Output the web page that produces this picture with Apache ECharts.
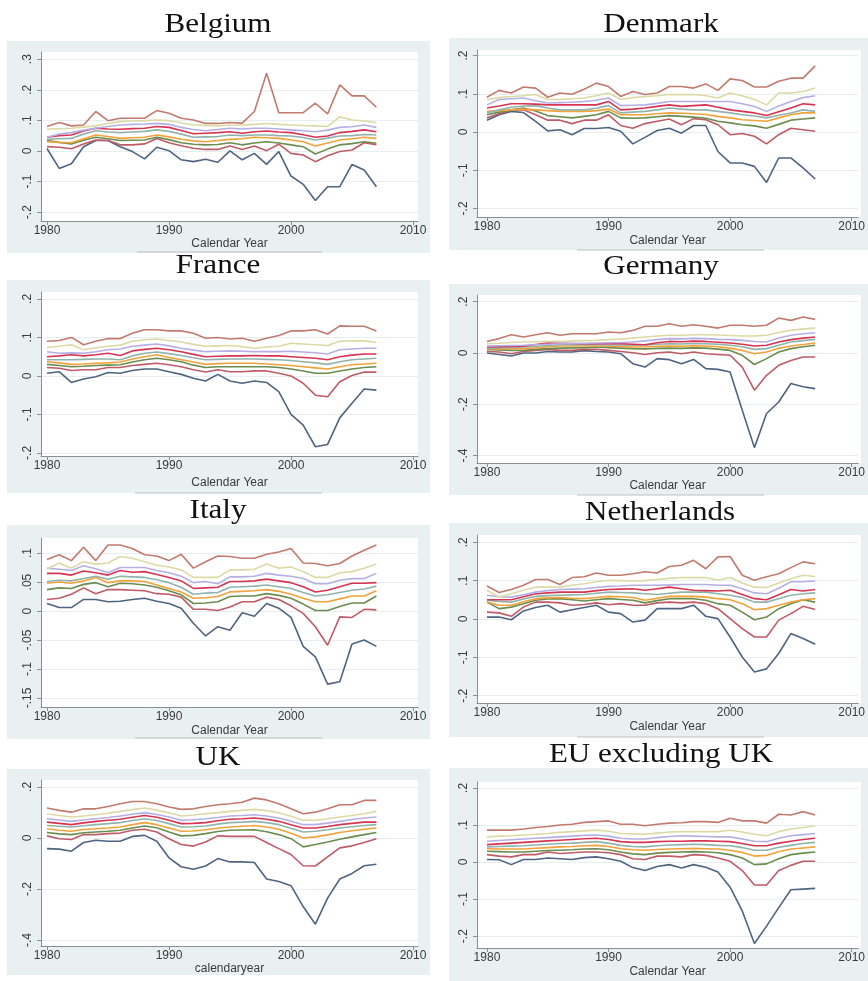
<!DOCTYPE html>
<html><head><meta charset="utf-8">
<script src="https://cdn.jsdelivr.net/npm/echarts@6/dist/echarts.min.js"></script>
<style>html,body{margin:0;padding:0;background:#fff}#c{width:868px;height:981px}</style>
</head><body><div id="c"></div>
<script>
// ---------- DATA ----------
const years = [1980,1981,1982,1983,1984,1985,1986,1987,1988,1989,1990,1991,1992,1993,1994,1995,1996,1997,1998,1999,2000,2001,2002,2003,2004,2005,2006,2007];
const seriesNames = ['p10','p20','p30','p40','p50','p60','p70','p80','p90'];
const xTicks = [1980,1990,2000,2010];

// rows: p10, p20, ..., p90
const belgium = [
 [0.008,-0.057,-0.042,0.014,0.034,0.034,0.014,-0.002,-0.026,0.012,0.001,-0.029,-0.035,-0.027,-0.037,0.0,-0.029,-0.008,-0.044,-0.002,-0.082,-0.109,-0.162,-0.117,-0.117,-0.044,-0.062,-0.117],
 [0.014,0.012,0.007,0.023,0.036,0.034,0.02,0.02,0.023,0.041,0.027,0.017,0.009,0.005,0.005,0.016,0.005,0.016,0.001,0.022,-0.008,-0.013,-0.035,-0.016,-0.002,0.003,0.027,0.02],
 [0.034,0.028,0.023,0.035,0.045,0.04,0.034,0.035,0.036,0.045,0.037,0.027,0.022,0.02,0.021,0.027,0.02,0.026,0.03,0.026,0.02,0.014,-0.01,0.006,0.02,0.024,0.03,0.025],
 [0.03,0.028,0.027,0.04,0.052,0.047,0.041,0.043,0.045,0.052,0.046,0.038,0.033,0.03,0.034,0.038,0.04,0.045,0.043,0.041,0.036,0.03,0.016,0.026,0.036,0.04,0.045,0.041],
 [0.038,0.04,0.041,0.055,0.066,0.062,0.06,0.062,0.064,0.069,0.064,0.055,0.045,0.046,0.047,0.052,0.05,0.052,0.052,0.05,0.049,0.044,0.036,0.042,0.049,0.05,0.054,0.052],
 [0.045,0.05,0.052,0.065,0.074,0.072,0.071,0.073,0.074,0.08,0.077,0.067,0.056,0.058,0.06,0.063,0.058,0.063,0.065,0.062,0.06,0.053,0.045,0.049,0.06,0.064,0.069,0.063],
 [0.045,0.055,0.06,0.068,0.074,0.08,0.085,0.087,0.088,0.09,0.087,0.077,0.07,0.066,0.07,0.074,0.072,0.074,0.074,0.072,0.069,0.066,0.063,0.068,0.077,0.079,0.085,0.077],
 [0.071,0.073,0.074,0.078,0.082,0.09,0.096,0.098,0.099,0.101,0.099,0.092,0.085,0.083,0.082,0.085,0.085,0.087,0.09,0.087,0.085,0.083,0.082,0.08,0.112,0.101,0.098,0.093],
 [0.08,0.093,0.082,0.085,0.129,0.099,0.107,0.107,0.107,0.132,0.123,0.107,0.101,0.09,0.09,0.093,0.091,0.129,0.254,0.125,0.125,0.125,0.156,0.121,0.216,0.18,0.18,0.143]
];
const denmark = [
 [0.031,0.045,0.054,0.051,0.028,0.003,0.006,-0.007,0.009,0.009,0.012,0.002,-0.031,-0.014,0.004,0.01,-0.003,0.017,0.017,-0.051,-0.081,-0.081,-0.09,-0.132,-0.068,-0.068,-0.094,-0.123],
 [0.037,0.048,0.058,0.058,0.045,0.031,0.031,0.022,0.031,0.031,0.045,0.017,0.01,0.022,0.028,0.034,0.019,0.035,0.032,0.019,-0.007,-0.004,-0.011,-0.031,-0.007,0.01,0.006,0.002],
 [0.045,0.052,0.058,0.063,0.055,0.043,0.04,0.037,0.041,0.045,0.054,0.037,0.036,0.037,0.04,0.043,0.041,0.039,0.036,0.028,0.024,0.019,0.016,0.01,0.02,0.031,0.034,0.037],
 [0.054,0.056,0.058,0.06,0.058,0.056,0.054,0.054,0.054,0.056,0.06,0.045,0.045,0.045,0.048,0.05,0.049,0.048,0.046,0.041,0.037,0.032,0.03,0.028,0.037,0.045,0.05,0.05],
 [0.05,0.058,0.065,0.068,0.069,0.063,0.058,0.058,0.058,0.062,0.069,0.05,0.052,0.054,0.058,0.063,0.06,0.058,0.058,0.054,0.05,0.045,0.042,0.037,0.044,0.05,0.058,0.054],
 [0.063,0.068,0.074,0.074,0.073,0.071,0.071,0.071,0.071,0.071,0.08,0.058,0.06,0.063,0.067,0.071,0.067,0.069,0.071,0.065,0.058,0.054,0.05,0.043,0.053,0.063,0.074,0.071],
 [0.071,0.085,0.087,0.089,0.082,0.076,0.077,0.078,0.08,0.083,0.089,0.069,0.07,0.071,0.075,0.08,0.08,0.08,0.08,0.08,0.08,0.074,0.067,0.054,0.068,0.08,0.09,0.095],
 [0.085,0.09,0.093,0.095,0.098,0.085,0.085,0.087,0.089,0.095,0.102,0.085,0.09,0.093,0.095,0.098,0.098,0.098,0.095,0.089,0.102,0.095,0.085,0.071,0.102,0.102,0.106,0.115],
 [0.091,0.109,0.102,0.118,0.115,0.091,0.102,0.099,0.112,0.128,0.119,0.093,0.106,0.098,0.102,0.119,0.119,0.115,0.126,0.109,0.139,0.135,0.118,0.118,0.133,0.141,0.141,0.173]
];
const france = [
 [0.007,0.011,-0.017,-0.008,-0.002,0.009,0.007,0.014,0.018,0.018,0.011,0.004,-0.006,-0.013,0.004,-0.013,-0.019,-0.013,-0.017,-0.041,-0.1,-0.128,-0.184,-0.178,-0.109,-0.071,-0.034,-0.037],
 [0.022,0.02,0.014,0.016,0.016,0.022,0.022,0.027,0.03,0.033,0.029,0.024,0.016,0.01,0.016,0.011,0.011,0.013,0.013,0.007,0.0,-0.019,-0.05,-0.054,-0.015,0.001,0.01,0.01],
 [0.03,0.027,0.024,0.025,0.027,0.028,0.029,0.036,0.042,0.046,0.042,0.037,0.028,0.022,0.024,0.024,0.024,0.024,0.024,0.022,0.018,0.013,0.007,0.007,0.013,0.018,0.022,0.024],
 [0.037,0.034,0.03,0.031,0.033,0.034,0.036,0.044,0.05,0.055,0.048,0.042,0.036,0.03,0.032,0.033,0.033,0.033,0.031,0.029,0.027,0.024,0.021,0.018,0.024,0.029,0.031,0.033],
 [0.042,0.042,0.042,0.043,0.044,0.044,0.042,0.052,0.059,0.062,0.058,0.053,0.047,0.042,0.043,0.044,0.044,0.044,0.043,0.042,0.04,0.037,0.034,0.03,0.037,0.042,0.044,0.046],
 [0.05,0.052,0.055,0.052,0.055,0.059,0.053,0.065,0.069,0.072,0.068,0.063,0.056,0.05,0.051,0.052,0.052,0.053,0.052,0.052,0.05,0.048,0.046,0.042,0.05,0.054,0.057,0.057],
 [0.063,0.059,0.06,0.059,0.063,0.068,0.07,0.077,0.08,0.083,0.078,0.072,0.067,0.063,0.064,0.065,0.064,0.063,0.063,0.063,0.064,0.062,0.06,0.057,0.068,0.07,0.072,0.072],
 [0.074,0.077,0.081,0.068,0.073,0.077,0.08,0.09,0.094,0.096,0.092,0.088,0.082,0.077,0.078,0.079,0.076,0.072,0.075,0.077,0.085,0.083,0.081,0.079,0.09,0.091,0.091,0.087],
 [0.09,0.092,0.1,0.081,0.09,0.097,0.097,0.111,0.12,0.12,0.117,0.117,0.111,0.098,0.1,0.096,0.098,0.09,0.098,0.105,0.117,0.117,0.12,0.109,0.13,0.129,0.129,0.117]
];
const germany = [
 [0.0,-0.006,-0.012,0.0,0.0,0.006,0.004,0.004,0.009,0.006,0.004,-0.003,-0.042,-0.055,-0.022,-0.026,-0.042,-0.025,-0.061,-0.064,-0.074,-0.223,-0.369,-0.236,-0.191,-0.119,-0.132,-0.139],
 [0.006,0.004,-0.003,0.006,0.01,0.014,0.01,0.01,0.014,0.014,0.01,0.006,0.001,-0.006,0.001,0.004,-0.003,0.004,-0.003,-0.006,-0.009,-0.055,-0.145,-0.087,-0.048,-0.029,-0.016,-0.016],
 [0.014,0.012,0.01,0.01,0.014,0.017,0.019,0.02,0.021,0.023,0.021,0.019,0.017,0.016,0.018,0.019,0.018,0.02,0.019,0.015,0.01,-0.009,-0.045,-0.022,0.004,0.017,0.024,0.03],
 [0.017,0.016,0.016,0.017,0.02,0.024,0.027,0.027,0.027,0.027,0.026,0.025,0.023,0.024,0.026,0.027,0.026,0.028,0.027,0.024,0.019,0.01,-0.003,0.004,0.018,0.027,0.033,0.039],
 [0.019,0.02,0.021,0.023,0.026,0.029,0.032,0.032,0.032,0.032,0.031,0.031,0.03,0.031,0.034,0.036,0.035,0.037,0.036,0.034,0.03,0.024,0.014,0.017,0.03,0.043,0.048,0.053],
 [0.023,0.024,0.025,0.026,0.033,0.039,0.038,0.037,0.036,0.036,0.036,0.036,0.034,0.032,0.04,0.045,0.044,0.046,0.045,0.042,0.039,0.034,0.027,0.03,0.043,0.052,0.058,0.062],
 [0.027,0.028,0.029,0.03,0.032,0.034,0.036,0.037,0.038,0.039,0.04,0.041,0.043,0.047,0.052,0.056,0.055,0.057,0.056,0.053,0.052,0.049,0.045,0.043,0.058,0.069,0.075,0.079],
 [0.036,0.038,0.041,0.043,0.044,0.045,0.045,0.047,0.048,0.049,0.052,0.054,0.058,0.062,0.066,0.069,0.069,0.071,0.071,0.07,0.068,0.066,0.066,0.069,0.08,0.088,0.094,0.097],
 [0.045,0.056,0.071,0.062,0.071,0.079,0.069,0.075,0.075,0.075,0.082,0.079,0.088,0.104,0.104,0.114,0.104,0.11,0.104,0.097,0.108,0.108,0.104,0.108,0.136,0.127,0.14,0.131]
];
const italy = [
 [0.013,0.006,0.006,0.02,0.02,0.016,0.017,0.02,0.022,0.017,0.013,0.005,-0.021,-0.043,-0.027,-0.033,-0.003,-0.009,0.013,0.005,-0.011,-0.061,-0.079,-0.126,-0.122,-0.057,-0.05,-0.061],
 [0.02,0.022,0.029,0.04,0.03,0.037,0.037,0.036,0.035,0.03,0.029,0.024,0.003,0.003,0.001,0.007,0.016,0.016,0.024,0.02,0.009,-0.004,-0.027,-0.059,-0.01,-0.011,0.003,0.002],
 [0.037,0.04,0.039,0.046,0.049,0.042,0.048,0.047,0.045,0.041,0.035,0.028,0.013,0.014,0.016,0.025,0.026,0.026,0.03,0.027,0.022,0.012,0.001,0.001,0.008,0.014,0.014,0.026],
 [0.048,0.05,0.048,0.052,0.058,0.049,0.052,0.052,0.051,0.045,0.039,0.033,0.022,0.023,0.025,0.033,0.034,0.035,0.037,0.034,0.029,0.022,0.016,0.016,0.021,0.026,0.026,0.035],
 [0.051,0.053,0.052,0.056,0.06,0.055,0.06,0.059,0.058,0.054,0.049,0.041,0.029,0.031,0.032,0.041,0.042,0.043,0.045,0.042,0.039,0.032,0.026,0.028,0.032,0.036,0.038,0.043],
 [0.065,0.065,0.062,0.069,0.066,0.062,0.07,0.067,0.068,0.063,0.058,0.052,0.039,0.04,0.041,0.051,0.051,0.052,0.055,0.052,0.049,0.042,0.033,0.036,0.042,0.048,0.048,0.049],
 [0.074,0.072,0.07,0.078,0.073,0.066,0.075,0.075,0.075,0.07,0.066,0.06,0.049,0.051,0.047,0.059,0.059,0.06,0.065,0.062,0.06,0.056,0.047,0.047,0.053,0.056,0.056,0.065],
 [0.072,0.083,0.074,0.085,0.081,0.083,0.094,0.091,0.085,0.079,0.076,0.071,0.058,0.058,0.058,0.071,0.071,0.072,0.081,0.074,0.076,0.068,0.058,0.058,0.066,0.068,0.074,0.081],
 [0.089,0.097,0.087,0.11,0.087,0.114,0.114,0.108,0.097,0.095,0.087,0.098,0.074,0.085,0.095,0.094,0.091,0.091,0.098,0.102,0.108,0.083,0.082,0.078,0.082,0.095,0.105,0.114]
];
const netherlands = [
 [0.005,0.005,-0.002,0.021,0.03,0.036,0.018,0.024,0.03,0.036,0.018,0.014,-0.008,-0.003,0.027,0.027,0.027,0.036,0.007,0.001,-0.047,-0.099,-0.138,-0.13,-0.09,-0.038,-0.051,-0.066],
 [0.018,0.016,0.007,0.031,0.044,0.044,0.042,0.036,0.038,0.042,0.037,0.04,0.036,0.036,0.042,0.044,0.042,0.044,0.04,0.027,0.001,-0.025,-0.047,-0.047,-0.003,0.014,0.033,0.025],
 [0.044,0.027,0.031,0.04,0.049,0.052,0.053,0.05,0.047,0.05,0.053,0.051,0.049,0.042,0.048,0.053,0.053,0.053,0.049,0.04,0.036,0.018,-0.002,0.005,0.027,0.04,0.05,0.044],
 [0.044,0.036,0.036,0.045,0.053,0.055,0.056,0.054,0.053,0.056,0.059,0.058,0.056,0.049,0.054,0.059,0.059,0.059,0.057,0.053,0.05,0.04,0.024,0.027,0.036,0.044,0.05,0.053],
 [0.049,0.046,0.044,0.052,0.059,0.061,0.062,0.063,0.064,0.067,0.07,0.069,0.068,0.066,0.064,0.067,0.07,0.07,0.07,0.066,0.062,0.056,0.044,0.044,0.053,0.062,0.066,0.068],
 [0.05,0.05,0.05,0.058,0.066,0.068,0.07,0.07,0.07,0.074,0.077,0.078,0.079,0.075,0.079,0.083,0.079,0.075,0.074,0.073,0.075,0.064,0.053,0.05,0.063,0.077,0.073,0.077],
 [0.062,0.058,0.057,0.063,0.07,0.074,0.077,0.078,0.079,0.082,0.085,0.086,0.088,0.088,0.088,0.089,0.09,0.09,0.09,0.088,0.088,0.079,0.068,0.066,0.08,0.097,0.097,0.099],
 [0.075,0.057,0.066,0.075,0.083,0.083,0.083,0.088,0.092,0.097,0.101,0.1,0.099,0.1,0.103,0.106,0.108,0.108,0.108,0.101,0.108,0.094,0.083,0.082,0.094,0.105,0.114,0.111],
 [0.086,0.069,0.077,0.088,0.103,0.103,0.09,0.108,0.11,0.12,0.114,0.114,0.118,0.123,0.12,0.137,0.14,0.153,0.131,0.162,0.163,0.114,0.101,0.11,0.118,0.134,0.149,0.144]
];
const uk = [
 [-0.042,-0.044,-0.052,-0.018,-0.009,-0.013,-0.013,0.006,0.01,-0.013,-0.078,-0.113,-0.123,-0.11,-0.081,-0.094,-0.094,-0.096,-0.161,-0.171,-0.187,-0.269,-0.338,-0.236,-0.161,-0.139,-0.109,-0.103],
 [0.008,-0.003,-0.006,0.013,0.013,0.017,0.019,0.03,0.034,0.023,-0.003,-0.026,-0.032,-0.016,0.008,0.006,0.006,0.006,-0.018,-0.042,-0.065,-0.109,-0.11,-0.074,-0.039,-0.031,-0.018,-0.003],
 [0.021,0.016,0.013,0.02,0.023,0.026,0.03,0.039,0.047,0.04,0.023,0.008,0.01,0.017,0.025,0.03,0.031,0.032,0.024,0.013,-0.003,-0.035,-0.026,-0.016,-0.005,0.004,0.013,0.021],
 [0.036,0.03,0.026,0.033,0.036,0.039,0.043,0.052,0.06,0.052,0.039,0.026,0.027,0.032,0.038,0.043,0.046,0.049,0.043,0.034,0.018,0.0,0.004,0.012,0.021,0.028,0.034,0.039],
 [0.049,0.046,0.043,0.048,0.052,0.056,0.06,0.068,0.075,0.068,0.056,0.043,0.044,0.047,0.054,0.06,0.062,0.065,0.06,0.052,0.038,0.023,0.026,0.032,0.039,0.044,0.049,0.052],
 [0.062,0.057,0.052,0.059,0.065,0.069,0.073,0.081,0.088,0.081,0.069,0.056,0.057,0.06,0.067,0.073,0.075,0.078,0.073,0.065,0.052,0.039,0.039,0.045,0.052,0.057,0.062,0.062],
 [0.075,0.07,0.065,0.07,0.075,0.08,0.086,0.093,0.099,0.092,0.082,0.069,0.071,0.075,0.08,0.086,0.088,0.091,0.086,0.078,0.065,0.052,0.052,0.058,0.065,0.072,0.078,0.082],
 [0.095,0.088,0.082,0.086,0.091,0.097,0.104,0.111,0.117,0.109,0.099,0.086,0.09,0.095,0.099,0.104,0.108,0.112,0.107,0.099,0.085,0.069,0.069,0.075,0.082,0.088,0.095,0.104],
 [0.117,0.108,0.101,0.114,0.114,0.123,0.134,0.143,0.143,0.134,0.121,0.112,0.114,0.123,0.13,0.134,0.14,0.156,0.149,0.134,0.114,0.095,0.101,0.114,0.13,0.13,0.147,0.147]
];
const euExUk = [
 [0.007,0.006,-0.007,0.007,0.007,0.011,0.009,0.007,0.012,0.014,0.009,0.002,-0.015,-0.023,-0.012,-0.007,-0.016,-0.007,-0.014,-0.027,-0.068,-0.132,-0.22,-0.173,-0.123,-0.075,-0.073,-0.071],
 [0.02,0.016,0.014,0.02,0.02,0.027,0.023,0.025,0.027,0.027,0.025,0.02,0.009,0.007,0.016,0.016,0.014,0.02,0.018,0.011,0.002,-0.023,-0.062,-0.062,-0.023,-0.009,0.002,0.002],
 [0.029,0.028,0.027,0.027,0.029,0.031,0.032,0.033,0.035,0.036,0.033,0.027,0.022,0.02,0.024,0.026,0.027,0.028,0.027,0.025,0.02,0.011,-0.007,-0.005,0.009,0.02,0.024,0.027],
 [0.036,0.035,0.035,0.035,0.037,0.039,0.041,0.042,0.044,0.045,0.042,0.036,0.033,0.032,0.034,0.035,0.036,0.037,0.036,0.035,0.032,0.026,0.016,0.018,0.028,0.035,0.038,0.041],
 [0.041,0.042,0.043,0.044,0.046,0.048,0.05,0.051,0.053,0.055,0.051,0.045,0.042,0.041,0.044,0.046,0.047,0.048,0.047,0.045,0.044,0.039,0.032,0.032,0.04,0.045,0.05,0.053],
 [0.047,0.049,0.051,0.053,0.055,0.057,0.059,0.061,0.063,0.064,0.061,0.055,0.053,0.053,0.055,0.056,0.056,0.057,0.057,0.056,0.055,0.05,0.044,0.044,0.051,0.056,0.061,0.064],
 [0.056,0.058,0.06,0.062,0.064,0.066,0.068,0.07,0.072,0.073,0.07,0.064,0.062,0.062,0.066,0.069,0.071,0.07,0.069,0.068,0.068,0.062,0.056,0.055,0.064,0.071,0.074,0.077],
 [0.068,0.07,0.071,0.073,0.075,0.077,0.08,0.082,0.084,0.086,0.083,0.077,0.076,0.075,0.078,0.081,0.082,0.082,0.082,0.082,0.086,0.081,0.075,0.071,0.082,0.089,0.093,0.098],
 [0.086,0.086,0.086,0.089,0.093,0.096,0.1,0.102,0.107,0.109,0.111,0.102,0.102,0.098,0.102,0.105,0.106,0.109,0.109,0.107,0.118,0.111,0.111,0.105,0.129,0.127,0.136,0.127]
];

const yTicksBE = [-0.2,-0.1,0,0.1,0.2,0.3];
const yTicksStd = [-0.2,-0.1,0,0.1,0.2];
const yTicksWide = [-0.4,-0.2,0,0.2];
const yTicksIT = [-0.15,-0.1,-0.05,0,0.05,0.1];

// ---------- LAYOUT / STYLE ----------
const colors = ['#4f6480','#bf5b66','#6b8c4f','#f2a23a','#92b3ab','#d83452','#b6afe6','#ddd9a6','#c27a6e'];
const L = {xmin:1979.51, xmax:2010.41}, R = {xmin:1979.18, xmax:2010.53};
const panels = [
 {title:'Belgium', data:belgium, ticks:yTicksBE, box:[7,41,423,212], plot:[41,52,418,221], ymin:-0.229, ymax:0.3235, xr:L, tpos:[218,25], xname:'Calendar Year', gap:16, rule:[137,252,322]},
 {title:'Denmark', data:denmark, ticks:yTicksStd, box:[449,38,419,212], plot:[477,50,861,217], ymin:-0.2225, ymax:0.2147, xr:R, tpos:[661,25], xname:'Calendar Year', gap:18, rule:[577,250,764]},
 {title:'France', data:france, ticks:yTicksStd, box:[7,280,423,213], plot:[41,292,418,456], ymin:-0.208, ymax:0.218, xr:L, tpos:[218,266], xname:'Calendar Year', gap:21, rule:[135,493,322]},
 {title:'Germany', data:germany, ticks:yTicksWide, box:[449,284,419,211], plot:[477,295,861,463], ymin:-0.429, ymax:0.226, xr:R, tpos:[661,267], xname:'Calendar Year', gap:16, rule:[577,495,764]},
 {title:'Italy', data:italy, ticks:yTicksIT, box:[7,525,423,214], plot:[41,538,418,707], ymin:-0.1655, ymax:0.126, xr:L, tpos:[218,511], xname:'Calendar Year', gap:18, rule:[135,738,322]},
 {title:'Netherlands', data:netherlands, ticks:yTicksStd, box:[449,523,419,214], plot:[477,535,861,703], ymin:-0.219, ymax:0.219, xr:R, tpos:[660,513], xname:'Calendar Year', gap:18, rule:[577,737,764]},
 {title:'UK', data:uk, ticks:yTicksWide, box:[7,769,423,206], plot:[41,780,418,946], ymin:-0.4235, ymax:0.227, xr:L, tpos:[218,758], xname:'calendaryear', gap:15, rule:null},
 {title:'EU excluding UK', data:euExUk, ticks:yTicksStd, box:[449,768,419,213], plot:[477,782,861,948], ymin:-0.232, ymax:0.216, xr:R, tpos:[661,755], xname:'Calendar Year', gap:18, rule:null}
];

function fmtY(v){
  if (Math.abs(v) < 1e-9) return '0';
  const s = String(Math.round(Math.abs(v)*1000)/1000).replace(/^0/,'');
  return (v<0?'-':'') + s;
}
function fmtX(v){ return String(Math.round(v)); }

const grid=[], xAxis=[], yAxis=[], series=[], graphic=[];
panels.forEach((p,i)=>{
  const [x0,y0,x1,y1]=p.plot;
  grid.push({left:x0, top:y0, width:x1-x0, height:y1-y0, show:false, containLabel:false});
  xAxis.push({type:'value', gridIndex:i, min:p.xr.xmin, max:p.xr.xmax,
    axisLine:{show:true, onZero:false, lineStyle:{color:'#8a8f93', width:1}},
    axisTick:{show:true, length:4, customValues:xTicks, lineStyle:{color:'#8a8f93'}},
    axisLabel:{customValues:xTicks, margin:4, color:'#3a3a3a', fontFamily:'Liberation Sans', fontSize:12, formatter:fmtX},
    splitLine:{show:false},
    name:p.xname, nameLocation:'middle', nameGap:p.gap,
    nameTextStyle:{color:'#3a3a3a', fontFamily:'Liberation Sans', fontSize:12}
  });
  yAxis.push({type:'value', gridIndex:i, min:p.ymin, max:p.ymax,
    axisLine:{show:true, onZero:false, lineStyle:{color:'#8a8f93', width:1}},
    axisTick:{show:true, length:4, customValues:p.ticks, lineStyle:{color:'#8a8f93'}},
    axisLabel:{customValues:p.ticks, rotate:90, margin:7, color:'#3a3a3a', fontFamily:'Liberation Sans', fontSize:12, formatter:fmtY},
    splitLine:{show:true, lineStyle:{color:'#e6eef0', width:1}}
  });
  p.data.forEach((row,k)=>{
    series.push({type:'line', name:p.title+' '+seriesNames[k], xAxisIndex:i, yAxisIndex:i,
      data: years.map((yr,j)=>[yr,row[j]]), showSymbol:false, symbol:'none', smooth:false,
      lineStyle:{color:colors[k], width:1.6}, itemStyle:{color:colors[k]}, z:3+k, silent:true, animation:false});
  });
  graphic.push({type:'rect', z:-100, silent:true, shape:{x:p.box[0], y:p.box[1], width:p.box[2], height:p.box[3]}, style:{fill:'#e9f0f2'}});
  graphic.push({type:'rect', z:-99, silent:true, shape:{x:x0, y:y0, width:x1-x0, height:y1-y0}, style:{fill:'#ffffff'}});
  if (p.rule) graphic.push({type:'line', z:-98, silent:true, shape:{x1:p.rule[0], y1:p.rule[1], x2:p.rule[2], y2:p.rule[1]}, style:{stroke:'#b9c2c6', lineWidth:1}});
  graphic.push({type:'text', z:10, silent:true, x:p.tpos[0], y:p.tpos[1], scaleX:1.15, scaleY:1,
    style:{text:p.title, fill:'#111', font:'27px "Liberation Serif"', align:'center', verticalAlign:'middle'}});
});

const chart = echarts.init(document.getElementById('c'), null, {renderer:'canvas'});
chart.setOption({animation:false, backgroundColor:'#ffffff', grid, xAxis, yAxis, series, graphic});
</script>
</body></html>
